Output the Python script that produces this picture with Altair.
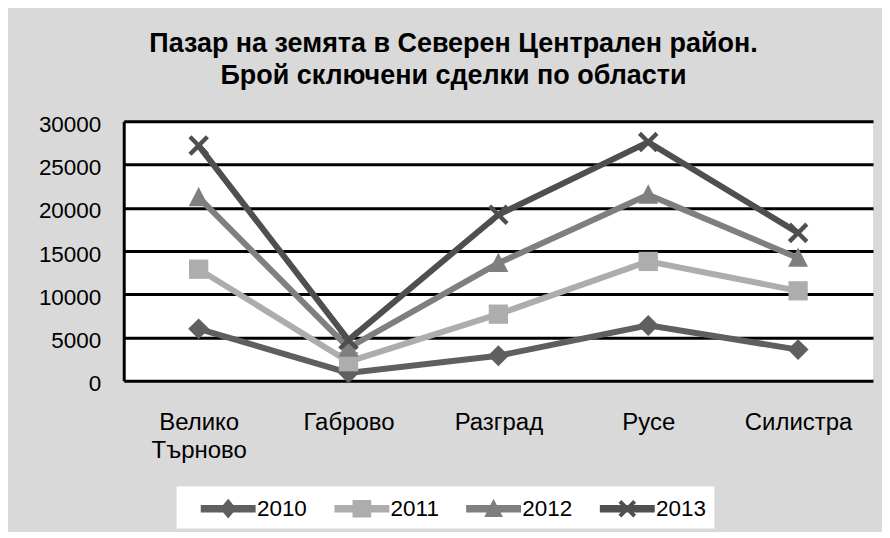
import altair as alt
import pandas as pd

categories = ["Велико Търново", "Габрово", "Разград", "Русе", "Силистра"]
years = ["2010", "2011", "2012", "2013"]
v2010 = [6000, 900, 2900, 6400, 3600]
v2011 = [12900, 2200, 7700, 13800, 10400]
v2012 = [21200, 3800, 13600, 21500, 14200]
v2013 = [27200, 4700, 19200, 27600, 17100]
y_ticks = [0, 5000, 10000, 15000, 20000, 25000, 30000]

series = {"2010": v2010, "2011": v2011, "2012": v2012, "2013": v2013}
rows = []
for yr in years:
    for c, v in zip(categories, series[yr]):
        rows.append({"region": c, "year": yr, "value": v})
df = pd.DataFrame(rows)

colors = ["#5f5f5f", "#adadad", "#7f7f7f", "#4f4f4f"]

def xpath(s, a, cx=0.0):
    pts = [(-1, -1 + a), (-1 + a, -1), (0, -a), (1 - a, -1), (1, -1 + a), (a, 0),
           (1, 1 - a), (1 - a, 1), (0, a), (-1 + a, 1), (-1, 1 - a), (-a, 0)]
    return "M" + "L".join(f"{x*s+cx:.3f},{y*s:.3f}" for x, y in pts) + "Z"

marker_paths = [
    "M0,-1L1,0L0,1L-1,0Z",
    "M-0.92,-0.92H0.92V0.92H-0.92Z",
    "M0,-1.0L0.95,0.85L-0.95,0.85Z",
    xpath(0.98, 0.3),
]

# legend symbols: line segment with the marker in its middle
c0 = 2.16
bar = f"M{c0-2:.2f},-0.27H{c0+2:.2f}V0.27H{c0-2:.2f}Z"
legend_paths = [
    bar + f"M{c0},-0.72L{c0+0.6:.2f},0L{c0},0.72L{c0-0.6:.2f},0Z",
    bar + f"M{c0-0.68:.2f},-0.64H{c0+0.68:.2f}V0.64H{c0-0.68:.2f}Z",
    bar + f"M{c0},-0.72L{c0+0.68:.2f},0.6L{c0-0.68:.2f},0.6Z",
    bar + xpath(0.64, 0.32, c0),
]

FONT = "Liberation Sans"

x_enc = alt.X(
    "region:N",
    sort=categories,
    scale=alt.Scale(type="point", padding=0.5),
    axis=alt.Axis(
        title=None, domain=False, ticks=False, tickSize=0, grid=False,
        labelAngle=0, labelPadding=30, labelFontSize=24, labelFont=FONT,
        labelColor="black", labelLineHeight=28,
        labelExpr="datum.value == 'Велико Търново' ? ['Велико', 'Търново'] : datum.value",
    ),
)
y_enc = alt.Y(
    "value:Q",
    scale=alt.Scale(domain=[0, 30000], nice=False, zero=True),
    axis=alt.Axis(
        title=None, values=y_ticks, format="d", domain=True, domainColor="black",
        domainWidth=3, ticks=False, tickSize=0, grid=True, gridColor="black",
        gridWidth=3, gridOpacity=1, labelPadding=23, labelFontSize=22.5, labelFont=FONT,
        labelColor="black", labelOffset=3,
    ),
)

base = alt.Chart(df)

layers = []
for yr, col, path in zip(years, colors, marker_paths):
    sub = base.transform_filter(alt.datum.year == yr)
    layers.append(sub.mark_line(strokeWidth=6, strokeJoin="miter", color=col).encode(x=x_enc, y=y_enc))
    layers.append(
        sub.mark_point(filled=True, size=441, opacity=1, shape=path, color=col).encode(x=x_enc, y=y_enc)
    )

leg = dict(
    title=None, orient="none", legendX=53, legendY=366, direction="horizontal",
    fillColor="white", padding=8, labelFontSize=22.5, labelFont=FONT,
    labelColor="black", labelOffset=44.5, columnPadding=11, symbolOpacity=1,
    symbolStrokeWidth=0, symbolSize=756,
    labelExpr="datum.label == '2013' ? datum.label + '\u00a0\u00a0\u00a0' : datum.label",
)

legend_layer = base.transform_filter("false").mark_point(
    filled=True, size=756, opacity=1
).encode(
    x=x_enc, y=y_enc,
    color=alt.Color("year:N", scale=alt.Scale(domain=years, range=colors), legend=alt.Legend(**leg)),
    shape=alt.Shape("year:N", scale=alt.Scale(domain=years, range=legend_paths), legend=alt.Legend(**leg)),
)

chart = alt.layer(*layers, legend_layer).properties(
    width=751,
    height=260,
    autosize=alt.AutoSizeParams(type="none"),
    padding={"left": 116, "top": 113, "right": 9, "bottom": 151},
    background="#d9d9d9",
    title=alt.Title(
        ["Пазар на земята в Северен Централен район.", "Брой сключени сделки по области"],
        font=FONT, fontSize=27, fontWeight="bold", color="black",
        anchor="middle", frame="group", dx=-45, offset=23, lineHeight=32,
    ),
).configure_view(stroke=None, fill="white")

chart.save("out.html", embed_options={"renderer": "svg", "actions": False})
